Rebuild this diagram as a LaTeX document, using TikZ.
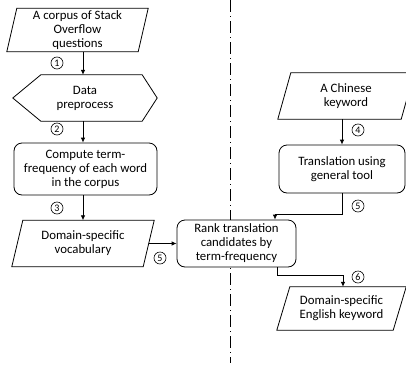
\documentclass[tikz,border=0pt]{standalone}
\usepackage{fontspec}
\setmainfont{Carlito}
\usetikzlibrary{arrows.meta,calc}

% outline of an input/output box: a parallelogram over the node's bounding rectangle
\newcommand{\ioshape}[2]{%
  \draw[thinline] (#1.south west) -- ([xshift=#2]#1.north west) -- (#1.north east)
    -- ([xshift=-#2]#1.south east) -- cycle;}

\begin{document}
\begin{tikzpicture}[x=1pt,y=-1pt,
  every node/.style={font=\fontsize{12.8}{14}\selectfont, align=center, inner sep=0pt},
  thinline/.style={line width=0.8pt, draw=black},
  arr/.style={line width=0.8pt, -{Latex[length=5pt,width=4.5pt]}},
  iobox/.style={rectangle, minimum width=#1},
  procbox/.style={rectangle, draw, line width=0.8pt, fill=white,
    rounded corners=8pt, minimum width=#1},
  stepnum/.style={circle, draw, line width=0.6pt, minimum size=12pt,
    font=\fontsize{10}{10}\selectfont},
  divider/.style={line width=0.8pt, dash pattern=on 12pt off 4pt on 1pt off 4pt}
]
\useasboundingbox (0,0) rectangle (406,367);

% dash-dotted divider between the two columns
\coordinate (divtop) at (230,0);
\coordinate (divbot) at (230,363);
\draw[divider] (divtop) -- (divbot);

% left column
\node[iobox=141, minimum height=43] (corpus) at (77.5,30) {A corpus of Stack\\Overflow\\questions};
\ioshape{corpus}{10}
\node[minimum width=144, minimum height=46] (prep) at (85,98) {Data\\preprocess};
\draw[thinline] (prep.west) -- ([xshift=28]prep.north west) -- ([xshift=-15]prep.north east)
  -- (prep.east) -- ([xshift=-15]prep.south east) -- ([xshift=28]prep.south west) -- cycle;
\node[procbox=143, minimum height=52] (tf) at (85.5,169)
  {Compute term-\\frequency of each word\\in the corpus};
\node[iobox=142, minimum height=46] (vocab) at (83,243.5) {Domain-specific\\vocabulary};
\ioshape{vocab}{11}

% right column
\node[iobox=136, minimum height=46] (ckw) at (346,96) {A Chinese\\keyword};
\ioshape{ckw}{13}
\node[procbox=126, minimum height=48] (trans) at (342,169) {Translation using\\general tool};
\node[procbox=119, minimum height=47] (rank) at (236.5,243.5)
  {Rank translation\\candidates by\\term-frequency};
\node[iobox=129, minimum height=43] (out) at (341.5,308.5) {Domain-specific\\English keyword};
\ioshape{out}{13}

% connectors
\coordinate (colA) at (83,0);
\draw[arr] (corpus.south -| colA) -- (prep.north -| colA);
\draw[arr] (prep.south -| colA) -- (tf.north -| colA);
\draw[arr] (tf.south -| colA) -- (vocab.north -| colA);
\draw[arr] ([xshift=-5.5]vocab.east) -- (rank.west);
\draw[arr] (ckw.south -| trans.north) -- (trans.north);
\draw[arr] (trans.south) -- ++(0,21) -| ([xshift=38.5]rank.north);
\draw[arr] ([xshift=40.5]rank.south) -- ++(0,8) -| ([xshift=1.5]out.north);

% step numbers
\node[stepnum] (s1) at (57,63) {1};
\node[stepnum] (s2) at (57,129) {2};
\node[stepnum] (s3) at (57,208) {3};
\node[stepnum] (s5a) at (160,258) {5};
\node[stepnum] (s4) at (358,130) {4};
\node[stepnum] (s5b) at (358,206) {5};
\node[stepnum] (s6) at (358,277) {6};
\end{tikzpicture}
\end{document}
